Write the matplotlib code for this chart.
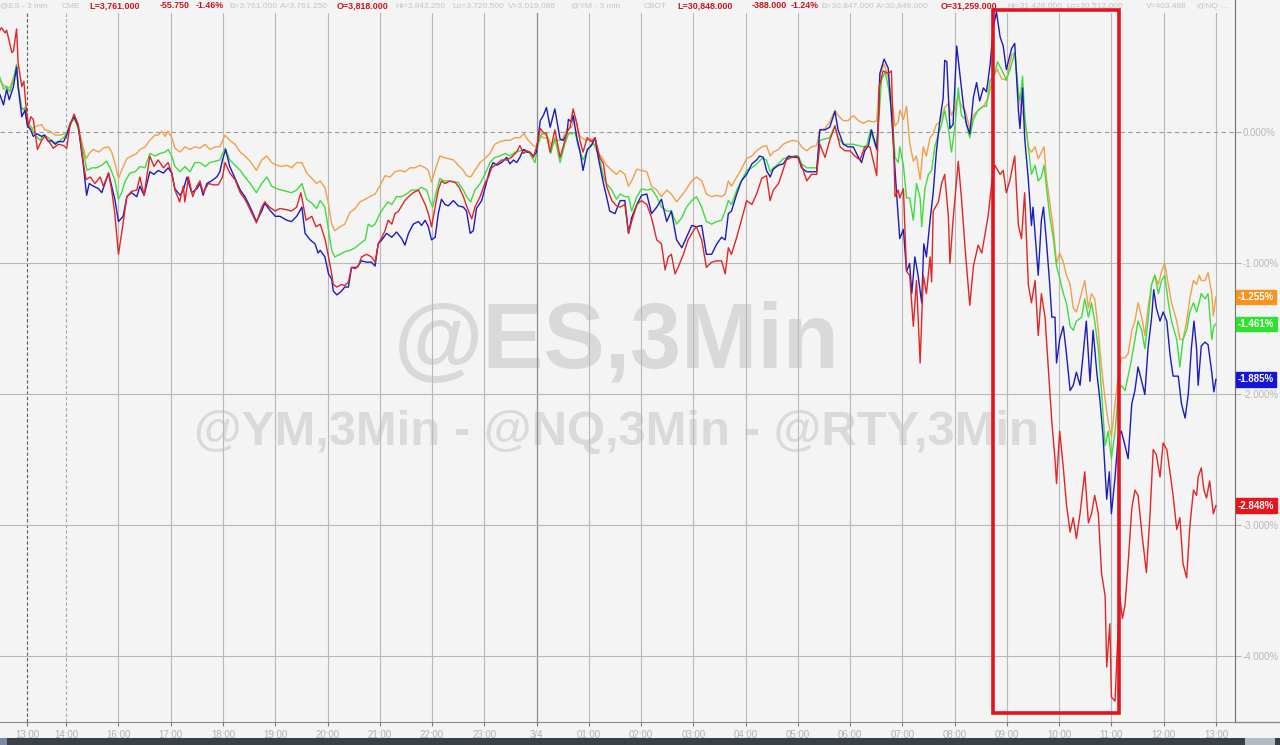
import matplotlib
matplotlib.use("Agg")
import matplotlib.pyplot as plt
from matplotlib.patches import Rectangle
from matplotlib.lines import Line2D

plt.rcParams['font.family'] = ['Liberation Sans', 'DejaVu Sans']

# ---------------------------------------------------------------------------
# data: x = session hours after 13:00 (trading break removed), y = % change
# ---------------------------------------------------------------------------

tick_pos = [0, 0.75, 1.75, 2.75, 3.75, 4.75, 5.75, 6.75, 7.75, 8.75, 9.75, 10.75,
            11.75, 12.75, 13.75, 14.75, 15.75, 16.75, 17.75, 18.75, 19.75, 20.75,
            21.75, 22.75]
tick_lbl = ['13:00', '14:00', '16:00', '17:00', '18:00', '19:00', '20:00', '21:00',
            '22:00', '23:00', '3/4', '01:00', '02:00', '03:00', '04:00', '05:00',
            '06:00', '07:00', '08:00', '09:00', '10:00', '11:00', '12:00', '13:00']

y_ticks = [0, -1, -2, -3, -4]
y_lbl = ['0.000%', '-1.000%', '-2.000%', '-3.000%', '-4.000%']

# @ES (orange)
es_t = [-0.52, -0.45, -0.39, -0.33, -0.26, -0.20, -0.17, -0.10, -0.04, 0.01, 0.09, 0.19, 0.28, 0.34, 0.44, 0.54, 0.63, 0.73, 0.79, 0.86, 0.92, 1.01, 1.13, 1.19, 1.27, 1.37, 1.46, 1.56, 1.62, 1.68, 1.75, 1.81, 1.91, 2.00, 2.10, 2.16, 2.26, 2.35, 2.45, 2.51, 2.58, 2.64, 2.70, 2.77, 2.83, 2.93, 3.02, 3.12, 3.21, 3.31, 3.41, 3.50, 3.60, 3.69, 3.79, 3.88, 3.98, 4.08, 4.17, 4.27, 4.39, 4.49, 4.59, 4.68, 4.78, 4.87, 4.97, 5.06, 5.16, 5.26, 5.35, 5.45, 5.54,
        5.61, 5.70, 5.77, 5.83, 5.89, 5.99, 6.08, 6.18, 6.28, 6.37, 6.47, 6.56, 6.66, 6.75, 6.85, 6.95, 7.04, 7.14, 7.23, 7.33, 7.42, 7.52, 7.62, 7.68, 7.74, 7.84, 7.90, 7.97, 8.06, 8.16, 8.25, 8.35, 8.41, 8.49, 8.57, 8.67, 8.76, 8.86, 8.95, 9.05, 9.15, 9.24, 9.34, 9.43, 9.51, 9.59, 9.69, 9.75, 9.82, 9.88, 9.97, 10.04, 10.13, 10.23, 10.33, 10.42, 10.49, 10.55, 10.61, 10.71, 10.80, 10.90, 11.00, 11.09, 11.19, 11.28,
        11.35, 11.44, 11.51, 11.57, 11.67, 11.76, 11.86, 11.95, 12.05, 12.14, 12.24, 12.33, 12.43, 12.53, 12.62, 12.72, 12.81, 12.91, 13.00, 13.10, 13.20, 13.29, 13.36, 13.42, 13.48, 13.58, 13.67, 13.77, 13.87, 13.96, 14.06, 14.15, 14.22, 14.28, 14.38, 14.47, 14.57, 14.66, 14.76, 14.82, 14.92, 15.01, 15.11, 15.17, 15.27, 15.36, 15.46, 15.52, 15.62, 15.71, 15.81, 15.91, 16.00, 16.10, 16.19, 16.26, 16.32, 16.40, 16.48, 16.56, 16.61, 16.67,
        16.70, 16.77, 16.83, 16.89, 16.96, 17.02, 17.09, 17.15, 17.21, 17.28, 17.34, 17.40, 17.47, 17.56, 17.63, 17.69, 17.76, 17.82, 17.88, 17.95, 18.04, 18.11, 18.20, 18.30, 18.39, 18.49, 18.57, 18.65, 18.74, 18.84, 18.90, 18.97, 19.03, 19.09, 19.16, 19.22, 19.29, 19.35, 19.41, 19.46, 19.51, 19.57, 19.64, 19.70, 19.76, 19.83, 19.89, 19.96, 20.02, 20.08, 20.15, 20.24, 20.31, 20.37, 20.43, 20.50, 20.56, 20.63, 20.69, 20.75, 20.82, 20.88, 20.94, 21.01, 21.07, 21.14, 21.20, 21.26, 21.33, 21.39, 21.45, 21.52, 21.58, 21.65, 21.71, 21.77, 21.84, 21.90, 22.00, 22.06, 22.12, 22.19, 22.25, 22.32, 22.38, 22.43, 22.47, 22.54, 22.60, 22.67, 22.70, 22.75]
es_v = [0.40, 0.36, 0.35, 0.34, 0.42, 0.50, 0.35, 0.19, 0.17, 0.05, 0.03, 0.05, 0.06, 0.02, 0.01, -0.02, -0.02, -0.01, 0.02, 0.08, 0.11, -0.01, -0.20, -0.16, -0.13, -0.15, -0.12, -0.11, -0.15, -0.23, -0.35, -0.29, -0.20, -0.18, -0.16, -0.13, -0.11, -0.06, -0.02, -0.02, 0.01, -0.03, 0.01, -0.04, -0.12, -0.15, -0.11, -0.13, -0.11, -0.12, -0.09, -0.13, -0.11, -0.11, -0.02, -0.06, -0.09, -0.15, -0.18, -0.22, -0.29, -0.21, -0.18, -0.23, -0.25, -0.26, -0.25, -0.27, -0.23, -0.23, -0.31, -0.35, -0.39,
        -0.37, -0.42, -0.55, -0.70, -0.75, -0.72, -0.70, -0.61, -0.58, -0.53, -0.51, -0.49, -0.47, -0.41, -0.33, -0.34, -0.30, -0.29, -0.30, -0.27, -0.27, -0.25, -0.27, -0.29, -0.38, -0.25, -0.18, -0.19, -0.20, -0.21, -0.25, -0.29, -0.33, -0.34, -0.29, -0.23, -0.20, -0.16, -0.09, -0.07, -0.06, -0.06, -0.04, -0.04, -0.01, -0.06, -0.10, -0.11, -0.02, -0.04, -0.04, -0.10, -0.06, -0.06, 0.02, 0.04, 0.12, -0.01, -0.04, -0.06, -0.05, -0.14, -0.19, -0.25, -0.29, -0.32,
        -0.29, -0.32, -0.41, -0.37, -0.28, -0.29, -0.30, -0.41, -0.44, -0.49, -0.44, -0.47, -0.53, -0.48, -0.43, -0.37, -0.34, -0.37, -0.47, -0.49, -0.48, -0.49, -0.47, -0.37, -0.41, -0.34, -0.28, -0.20, -0.18, -0.14, -0.11, -0.10, -0.18, -0.15, -0.13, -0.09, -0.07, -0.06, -0.07, -0.11, -0.14, -0.11, -0.10, 0.02, 0.03, 0.08, 0.17, 0.13, 0.09, 0.09, 0.13, 0.09, 0.07, 0.09, 0.08, 0.09, 0.45, 0.52, 0.42, 0.22, 0.05, 0.08,
        0.17, 0.10, 0.20, -0.08, -0.22, -0.18, -0.36, -0.11, -0.18, -0.04, -0.01, 0.06, 0.08, 0.19, 0.22, 0.13, 0.20, 0.27, 0.20, 0.17, 0.03, 0.13, 0.17, 0.20, 0.26, 0.43, 0.48, 0.41, 0.40, 0.59, 0.61, 0.27, 0.17, 0.10, -0.11, -0.15, -0.11, -0.20, -0.15, -0.11, -0.36, -0.53, -0.74, -1.00, -0.92, -0.99, -1.09, -1.16, -1.34, -1.37, -1.27, -1.13, -1.34, -1.23, -1.27, -1.51, -1.79, -2.04, -2.21, -2.32, -2.07, -1.86, -1.72, -1.72, -1.69, -1.51, -1.44, -1.30, -1.41, -1.55, -1.34, -1.16, -1.09, -1.16, -1.06, -1.00, -1.16, -1.30, -1.44, -1.58, -1.58, -1.44, -1.27, -1.13, -1.16, -1.09, -1.13, -1.13, -1.07, -1.23, -1.40, -1.255]

# @YM (green)
ym_t = [-0.52, -0.45, -0.39, -0.33, -0.26, -0.20, -0.17, -0.10, -0.04, 0.01, 0.07, 0.15, 0.25, 0.31, 0.41, 0.50, 0.60, 0.70, 0.76, 0.82, 0.90, 0.98, 1.08, 1.15, 1.24, 1.33, 1.43, 1.52, 1.59, 1.68, 1.75, 1.81, 1.88, 1.97, 2.07, 2.16, 2.26, 2.35, 2.45, 2.55, 2.64, 2.70, 2.77, 2.83, 2.93, 3.02, 3.12, 3.21, 3.31, 3.41, 3.50, 3.60, 3.69, 3.79, 3.88, 3.98, 4.08, 4.17, 4.27, 4.39, 4.49, 4.59, 4.68, 4.78, 4.87, 4.97, 5.06, 5.16, 5.26, 5.35, 5.45, 5.54,
        5.61, 5.70, 5.77, 5.83, 5.89, 5.99, 6.08, 6.18, 6.28, 6.37, 6.47, 6.53, 6.59, 6.66, 6.75, 6.85, 6.91, 6.98, 7.07, 7.17, 7.26, 7.36, 7.46, 7.55, 7.65, 7.71, 7.76, 7.84, 7.90, 7.97, 8.06, 8.16, 8.25, 8.35, 8.41, 8.49, 8.57, 8.67, 8.76, 8.86, 8.95, 9.05, 9.15, 9.24, 9.34, 9.43, 9.53, 9.62, 9.72, 9.78, 9.85, 9.94, 10.02, 10.10, 10.20, 10.29, 10.36, 10.42, 10.49, 10.55, 10.64, 10.72, 10.80, 10.87, 10.96, 11.03, 11.09, 11.19, 11.28,
        11.35, 11.44, 11.51, 11.57, 11.67, 11.76, 11.86, 11.95, 12.05, 12.14, 12.24, 12.33, 12.43, 12.53, 12.62, 12.72, 12.81, 12.91, 13.00, 13.10, 13.20, 13.29, 13.36, 13.42, 13.48, 13.58, 13.67, 13.77, 13.87, 13.96, 14.06, 14.15, 14.22, 14.28, 14.38, 14.47, 14.57, 14.66, 14.76, 14.82, 14.92, 15.01, 15.11, 15.17, 15.27, 15.36, 15.46, 15.52, 15.62, 15.71, 15.81, 15.91, 16.00, 16.07, 16.14, 16.24, 16.29, 16.35, 16.42, 16.48, 16.56, 16.61, 16.67,
        16.70, 16.77, 16.83, 16.89, 16.96, 17.02, 17.09, 17.12, 17.18, 17.25, 17.31, 17.37, 17.44, 17.50, 17.56, 17.63, 17.69, 17.76, 17.82, 17.88, 17.95, 18.04, 18.11, 18.20, 18.30, 18.36, 18.43, 18.52, 18.57, 18.65, 18.74, 18.81, 18.90, 18.97, 19.00, 19.05, 19.09, 19.16, 19.22, 19.29, 19.35, 19.41, 19.46, 19.51, 19.57, 19.64, 19.70, 19.76, 19.83, 19.89, 19.96, 20.02, 20.08, 20.18, 20.24, 20.31, 20.37, 20.43, 20.50, 20.56, 20.63, 20.69, 20.75, 20.82, 20.88, 20.94, 21.01, 21.07, 21.14, 21.20, 21.26, 21.33, 21.39, 21.45, 21.52, 21.58, 21.65, 21.71, 21.77, 21.84, 21.90, 22.00, 22.06, 22.12, 22.19, 22.25, 22.32, 22.38, 22.43, 22.47, 22.54, 22.60, 22.67, 22.71, 22.75]
ym_v = [0.42, 0.33, 0.35, 0.31, 0.40, 0.52, 0.35, 0.17, 0.19, 0.05, 0.05, -0.02, -0.06, -0.02, -0.04, -0.08, -0.07, -0.04, -0.01, 0.07, 0.11, 0.03, -0.16, -0.29, -0.27, -0.27, -0.25, -0.22, -0.27, -0.36, -0.51, -0.46, -0.37, -0.31, -0.30, -0.26, -0.27, -0.16, -0.18, -0.16, -0.15, -0.13, -0.18, -0.26, -0.30, -0.26, -0.30, -0.23, -0.23, -0.26, -0.23, -0.22, -0.21, -0.12, -0.21, -0.25, -0.29, -0.34, -0.39, -0.46, -0.39, -0.34, -0.41, -0.43, -0.44, -0.45, -0.46, -0.44, -0.39, -0.51, -0.54, -0.58,
        -0.52, -0.57, -0.75, -0.90, -0.95, -0.93, -0.91, -0.90, -0.88, -0.85, -0.82, -0.70, -0.72, -0.70, -0.62, -0.56, -0.53, -0.55, -0.49, -0.49, -0.47, -0.44, -0.44, -0.42, -0.44, -0.52, -0.57, -0.44, -0.35, -0.37, -0.37, -0.38, -0.38, -0.44, -0.49, -0.53, -0.44, -0.39, -0.32, -0.23, -0.19, -0.18, -0.16, -0.18, -0.15, -0.14, -0.13, -0.16, -0.23, -0.09, -0.01, -0.02, -0.16, -0.04, -0.23, -0.09, -0.01, -0.01, 0.00, -0.11, -0.21, -0.14, -0.09, -0.09, -0.21, -0.34, -0.39, -0.44, -0.51,
        -0.47, -0.49, -0.49, -0.60, -0.49, -0.43, -0.44, -0.43, -0.49, -0.57, -0.60, -0.60, -0.70, -0.65, -0.57, -0.52, -0.49, -0.57, -0.68, -0.70, -0.68, -0.67, -0.60, -0.52, -0.55, -0.44, -0.37, -0.29, -0.27, -0.24, -0.20, -0.21, -0.30, -0.27, -0.24, -0.20, -0.19, -0.18, -0.18, -0.24, -0.27, -0.27, -0.27, -0.06, -0.05, -0.04, 0.05, -0.04, -0.09, -0.09, -0.09, -0.10, -0.11, -0.10, 0.02, -0.11, 0.04, 0.40, 0.46, 0.35, 0.12, -0.19, -0.23,
        -0.11, -0.25, -0.50, -0.50, -0.67, -0.39, -0.50, -0.72, -0.43, -0.32, -0.29, -0.11, -0.01, 0.06, 0.17, 0.03, -0.15, 0.06, 0.34, 0.13, 0.10, -0.04, 0.10, 0.17, 0.20, 0.20, 0.40, 0.45, 0.54, 0.48, 0.40, 0.48, 0.61, 0.31, 0.24, 0.43, 0.13, -0.11, -0.32, -0.25, -0.37, -0.34, -0.25, -0.43, -0.64, -0.81, -1.02, -1.11, -1.23, -1.30, -1.48, -1.51, -1.44, -1.41, -1.27, -1.41, -1.30, -1.44, -1.65, -1.97, -2.39, -2.28, -2.49, -2.28, -2.00, -1.93, -1.97, -1.86, -1.72, -1.58, -1.44, -1.51, -1.65, -1.44, -1.16, -1.09, -1.23, -1.13, -1.09, -1.30, -1.44, -1.58, -1.79, -1.58, -1.51, -1.37, -1.30, -1.37, -1.30, -1.23, -1.27, -1.23, -1.58, -1.48, -1.461]

# @NQ (blue)
nq_t = [-0.52, -0.45, -0.39, -0.34, -0.26, -0.20, -0.17, -0.10, -0.04, 0.01, 0.07, 0.12, 0.19, 0.28, 0.34, 0.41, 0.47, 0.54, 0.60, 0.70, 0.76, 0.84, 0.90, 0.98, 1.08, 1.14, 1.19, 1.27, 1.37, 1.43, 1.49, 1.56, 1.62, 1.68, 1.75, 1.84, 1.91, 2.00, 2.10, 2.16, 2.24, 2.35, 2.43, 2.51, 2.61, 2.70, 2.77, 2.83, 2.93, 2.99, 3.06, 3.15, 3.25, 3.31, 3.37, 3.44, 3.53, 3.63, 3.69, 3.74, 3.80, 3.88, 3.98, 4.08, 4.17, 4.27, 4.39, 4.49, 4.55, 4.64, 4.75, 4.84, 4.97, 5.06, 5.16, 5.26, 5.32, 5.42, 5.51, 5.57,
        5.61, 5.70, 5.77, 5.83, 5.86, 5.93, 6.02, 6.08, 6.15, 6.21, 6.31, 6.40, 6.50, 6.59, 6.66, 6.72, 6.79, 6.88, 6.98, 7.07, 7.17, 7.23, 7.30, 7.39, 7.49, 7.55, 7.62, 7.68, 7.74, 7.81, 7.87, 7.93, 8.00, 8.06, 8.16, 8.25, 8.35, 8.41, 8.48, 8.54, 8.60, 8.70, 8.80, 8.86, 8.92, 8.99, 9.08, 9.18, 9.24, 9.31, 9.37, 9.43, 9.50, 9.56, 9.62, 9.69, 9.75, 9.82, 9.88, 9.94, 10.01, 10.10, 10.20, 10.26, 10.33, 10.36, 10.42, 10.45, 10.52, 10.58, 10.64, 10.72, 10.80, 10.87, 10.93, 11.03, 11.09, 11.15, 11.25,
        11.35, 11.44, 11.51, 11.57, 11.67, 11.76, 11.86, 11.95, 12.05, 12.14, 12.24, 12.33, 12.43, 12.53, 12.62, 12.72, 12.81, 12.91, 13.00, 13.10, 13.20, 13.29, 13.36, 13.42, 13.48, 13.58, 13.67, 13.77, 13.87, 13.96, 14.02, 14.09, 14.15, 14.22, 14.28, 14.38, 14.47, 14.57, 14.66, 14.76, 14.82, 14.92, 15.01, 15.11, 15.17, 15.27, 15.36, 15.46, 15.52, 15.62, 15.71, 15.81, 15.91, 15.97, 16.03, 16.10, 16.16, 16.26, 16.29, 16.32, 16.40, 16.48, 16.56, 16.64,
        16.70, 16.77, 16.83, 16.89, 16.93, 16.99, 17.05, 17.12, 17.16, 17.21, 17.28, 17.34, 17.40, 17.47, 17.53, 17.56, 17.60, 17.66, 17.72, 17.79, 17.85, 17.92, 17.98, 18.04, 18.11, 18.17, 18.23, 18.30, 18.36, 18.43, 18.49, 18.55, 18.62, 18.68, 18.74, 18.84, 18.90, 18.97, 19.00, 19.05, 19.09, 19.16, 19.22, 19.25, 19.32, 19.35, 19.41, 19.45, 19.51, 19.57, 19.61, 19.67, 19.70, 19.76, 19.83, 19.89, 19.96, 20.02, 20.08, 20.15, 20.21, 20.27, 20.34, 20.40, 20.47, 20.53, 20.59, 20.66, 20.71, 20.75, 20.82, 20.88, 20.94, 21.01, 21.07, 21.14, 21.20, 21.26, 21.33, 21.39, 21.45, 21.52, 21.56, 21.61, 21.68, 21.74, 21.81, 21.87, 21.93, 22.03, 22.09, 22.16, 22.22, 22.28, 22.33, 22.38, 22.41, 22.47, 22.54, 22.60, 22.67, 22.71, 22.75]
nq_v = [0.29, 0.21, 0.33, 0.25, 0.35, 0.50, 0.35, 0.12, 0.17, 0.05, 0.02, -0.03, -0.01, -0.03, -0.02, -0.07, -0.06, -0.09, -0.07, -0.07, -0.02, 0.08, 0.12, 0.05, -0.26, -0.48, -0.39, -0.41, -0.43, -0.46, -0.39, -0.31, -0.41, -0.51, -0.68, -0.64, -0.49, -0.46, -0.49, -0.41, -0.48, -0.30, -0.32, -0.29, -0.31, -0.27, -0.31, -0.43, -0.48, -0.44, -0.34, -0.46, -0.43, -0.39, -0.48, -0.39, -0.37, -0.34, -0.30, -0.21, -0.13, -0.26, -0.35, -0.44, -0.49, -0.57, -0.68, -0.60, -0.54, -0.59, -0.64, -0.64, -0.67, -0.68, -0.64, -0.57, -0.77, -0.82, -0.85, -0.92,
        -0.90, -0.95, -1.08, -1.12, -1.21, -1.24, -1.21, -1.18, -1.18, -1.03, -1.03, -0.98, -0.99, -0.99, -1.02, -0.85, -0.82, -0.77, -0.80, -0.76, -0.81, -0.86, -0.77, -0.70, -0.68, -0.71, -0.67, -0.72, -0.82, -0.80, -0.62, -0.51, -0.55, -0.56, -0.52, -0.56, -0.57, -0.60, -0.77, -0.75, -0.58, -0.52, -0.37, -0.28, -0.23, -0.25, -0.23, -0.19, -0.24, -0.21, -0.23, -0.19, -0.13, -0.15, -0.15, -0.18, -0.15, 0.09, 0.13, 0.19, 0.04, 0.18, -0.05, -0.06, -0.01, 0.10, 0.08, 0.13, -0.04, -0.14, -0.29, -0.13, -0.10, -0.04, -0.19, -0.39, -0.49, -0.60, -0.62,
        -0.52, -0.52, -0.77, -0.65, -0.55, -0.48, -0.47, -0.62, -0.57, -0.51, -0.68, -0.60, -0.82, -0.88, -0.80, -0.71, -0.72, -0.71, -0.93, -0.93, -0.85, -0.80, -0.82, -0.62, -0.60, -0.47, -0.37, -0.32, -0.24, -0.21, -0.18, -0.19, -0.29, -0.34, -0.28, -0.25, -0.24, -0.18, -0.19, -0.19, -0.27, -0.30, -0.30, -0.30, 0.02, 0.02, 0.04, 0.16, 0.02, -0.09, -0.11, -0.11, -0.19, -0.23, -0.14, -0.10, 0.02, -0.13, 0.09, 0.45, 0.56, 0.49, 0.02, -0.47,
        -0.81, -0.74, -1.06, -1.00, -1.23, -0.95, -1.09, -1.30, -0.85, -0.95, -0.67, -0.46, -0.15, 0.10, 0.26, 0.55, 0.54, 0.03, 0.06, 0.66, 0.45, 0.20, 0.06, -0.01, 0.27, 0.38, 0.24, 0.34, 0.31, 0.52, 0.80, 0.92, 0.73, 0.66, 0.48, 0.64, 0.68, 0.17, 0.03, 0.34, -0.04, -0.36, -0.71, -0.57, -0.93, -1.09, -0.67, -0.57, -0.85, -1.16, -1.41, -1.41, -1.76, -1.58, -1.48, -1.69, -1.97, -1.93, -1.83, -1.93, -1.69, -1.44, -1.90, -1.51, -1.83, -2.04, -2.32, -2.80, -2.59, -2.91, -2.63, -2.32, -2.28, -2.39, -2.49, -2.07, -1.97, -1.79, -1.90, -2.00, -1.65, -1.41, -1.20, -1.34, -1.44, -1.37, -1.44, -1.69, -1.86, -1.86, -2.07, -2.18, -2.00, -1.65, -1.44, -1.65, -1.93, -1.63, -1.60, -1.62, -1.83, -1.98, -1.885]

# @RTY (red)
rty_t = [-0.52, -0.49, -0.42, -0.39, -0.29, -0.26, -0.20, -0.17, -0.10, -0.06, -0.02, 0.03, 0.07, 0.12, 0.20, 0.28, 0.34, 0.44, 0.50, 0.60, 0.70, 0.76, 0.82, 0.90, 0.98, 1.07, 1.13, 1.21, 1.30, 1.40, 1.46, 1.56, 1.62, 1.68, 1.75, 1.81, 1.91, 2.00, 2.10, 2.16, 2.24, 2.35, 2.43, 2.51, 2.61, 2.70, 2.77, 2.83, 2.92, 2.99, 3.02, 3.09, 3.17, 3.25, 3.31, 3.37, 3.47, 3.57, 3.66, 3.74, 3.79, 3.88, 3.98, 4.08, 4.17, 4.27, 4.39, 4.49, 4.55, 4.64, 4.75, 4.84, 4.97, 5.06, 5.16, 5.24, 5.34, 5.45, 5.53,
         5.61, 5.70, 5.77, 5.83, 5.86, 5.93, 6.02, 6.08, 6.15, 6.21, 6.28, 6.34, 6.40, 6.50, 6.59, 6.66, 6.72, 6.79, 6.85, 6.91, 6.98, 7.04, 7.11, 7.17, 7.23, 7.30, 7.39, 7.49, 7.55, 7.62, 7.68, 7.74, 7.81, 7.87, 7.93, 8.00, 8.09, 8.19, 8.27, 8.35, 8.41, 8.51, 8.57, 8.67, 8.76, 8.83, 8.89, 8.99, 9.08, 9.18, 9.27, 9.37, 9.43, 9.50, 9.56, 9.62, 9.69, 9.75, 9.82, 9.88, 9.94, 10.01, 10.10, 10.20, 10.26, 10.33, 10.39, 10.45, 10.52, 10.58, 10.64, 10.72, 10.80, 10.87, 10.96, 11.03, 11.09, 11.19, 11.28,
         11.35, 11.44, 11.51, 11.57, 11.67, 11.76, 11.86, 11.95, 12.05, 12.14, 12.21, 12.27, 12.33, 12.40, 12.46, 12.56, 12.65, 12.75, 12.81, 12.91, 13.00, 13.10, 13.20, 13.29, 13.36, 13.42, 13.48, 13.58, 13.67, 13.77, 13.87, 13.96, 14.06, 14.15, 14.22, 14.28, 14.38, 14.44, 14.53, 14.63, 14.73, 14.82, 14.92, 15.01, 15.11, 15.17, 15.27, 15.36, 15.46, 15.56, 15.65, 15.75, 15.84, 15.94, 16.03, 16.13, 16.19, 16.26, 16.31, 16.38, 16.48, 16.54, 16.61, 16.67,
         16.70, 16.77, 16.83, 16.89, 16.96, 17.02, 17.09, 17.15, 17.21, 17.28, 17.31, 17.34, 17.44, 17.50, 17.56, 17.63, 17.66, 17.72, 17.82, 17.88, 17.95, 18.04, 18.11, 18.20, 18.27, 18.33, 18.39, 18.46, 18.52, 18.62, 18.68, 18.74, 18.81, 18.90, 18.97, 19.03, 19.09, 19.16, 19.22, 19.29, 19.35, 19.41, 19.48, 19.51, 19.61, 19.67, 19.70, 19.76, 19.83, 19.89, 19.96, 20.02, 20.08, 20.15, 20.24, 20.31, 20.37, 20.43, 20.50, 20.56, 20.63, 20.66, 20.72, 20.75, 20.82, 20.86, 20.91, 20.96, 21.01, 21.07, 21.14, 21.20, 21.26, 21.33, 21.39, 21.42, 21.49, 21.55, 21.61, 21.68, 21.74, 21.81, 21.87, 21.93, 22.00, 22.06, 22.12, 22.19, 22.25, 22.32, 22.38, 22.41, 22.47, 22.52, 22.57, 22.63, 22.70, 22.75]
rty_v = [0.78, 0.80, 0.76, 0.78, 0.61, 0.62, 0.79, 0.53, 0.35, 0.39, 0.20, 0.05, 0.12, 0.10, -0.13, -0.06, -0.03, -0.08, -0.12, -0.09, -0.10, -0.12, 0.05, 0.14, 0.06, -0.21, -0.36, -0.34, -0.39, -0.34, -0.41, -0.31, -0.44, -0.62, -0.93, -0.77, -0.49, -0.45, -0.44, -0.34, -0.48, -0.18, -0.26, -0.21, -0.27, -0.23, -0.31, -0.44, -0.53, -0.41, -0.53, -0.34, -0.49, -0.41, -0.37, -0.46, -0.39, -0.40, -0.40, -0.34, -0.23, -0.31, -0.36, -0.46, -0.51, -0.59, -0.69, -0.57, -0.53, -0.57, -0.60, -0.58, -0.59, -0.60, -0.57, -0.46, -0.67, -0.64, -0.72,
         -0.70, -0.81, -0.95, -1.08, -1.16, -1.18, -1.16, -1.17, -1.14, -1.03, -1.04, -1.02, -0.95, -0.93, -0.95, -0.99, -0.85, -0.80, -0.75, -0.67, -0.70, -0.62, -0.60, -0.56, -0.52, -0.49, -0.46, -0.44, -0.49, -0.55, -0.62, -0.72, -0.57, -0.44, -0.37, -0.39, -0.37, -0.38, -0.42, -0.49, -0.56, -0.66, -0.57, -0.49, -0.39, -0.34, -0.27, -0.24, -0.21, -0.21, -0.19, -0.15, -0.10, -0.16, -0.14, -0.15, -0.19, -0.11, 0.03, 0.00, -0.01, -0.15, 0.02, -0.19, -0.11, 0.00, 0.04, 0.18, 0.07, -0.06, -0.15, -0.04, -0.07, -0.04, -0.19, -0.24, -0.41, -0.52, -0.56,
         -0.57, -0.55, -0.77, -0.68, -0.55, -0.52, -0.55, -0.65, -0.82, -0.85, -1.05, -0.95, -0.93, -1.08, -1.03, -0.93, -0.82, -0.75, -0.72, -0.82, -1.03, -0.99, -0.98, -0.98, -1.08, -0.88, -0.93, -0.80, -0.67, -0.52, -0.55, -0.47, -0.35, -0.33, -0.52, -0.44, -0.39, -0.32, -0.21, -0.19, -0.18, -0.25, -0.37, -0.32, -0.32, -0.09, -0.19, -0.06, 0.05, -0.11, -0.14, -0.14, -0.18, -0.21, -0.11, -0.11, -0.21, -0.33, 0.35, 0.47, 0.45, 0.47, -0.49, -0.44,
         -0.50, -0.43, -1.06, -1.09, -1.48, -1.13, -1.76, -1.09, -1.23, -0.95, -1.14, -0.60, -0.53, -0.39, -0.32, -0.64, -1.00, -0.67, -0.22, -0.50, -0.88, -1.32, -1.02, -0.86, -0.92, -0.78, -0.64, -0.39, -0.25, -0.32, -0.29, -0.46, -0.36, -0.18, -0.71, -0.81, -0.46, -1.16, -1.30, -1.13, -1.55, -1.23, -1.41, -1.60, -2.21, -2.49, -2.68, -2.28, -2.56, -2.84, -3.05, -2.94, -3.10, -2.91, -2.59, -2.98, -2.91, -2.77, -2.91, -3.36, -3.54, -4.08, -3.75, -4.31, -4.34, -3.96, -3.54, -3.71, -3.61, -3.29, -2.87, -2.73, -2.77, -3.05, -3.26, -3.36, -2.91, -2.42, -2.46, -2.63, -2.37, -2.42, -2.59, -2.77, -3.03, -2.94, -3.29, -3.40, -3.01, -2.73, -2.77, -2.63, -2.56, -2.73, -2.79, -2.66, -2.91, -2.848]

# highlighted window (09:00 - 11:00), in chart units
box_t = [18.49, 20.90]
box_v = [-4.43, 0.935]

BG = '#f4f4f4'
C_ES, C_YM, C_NQ, C_RTY = '#f0a04b', '#3fdc3f', '#1c1cb8', '#e02626'
TAG = {'es': '#f7931e', 'ym': '#2ee22e', 'nq': '#1515d6', 'rty': '#e8141c'}
GREY_TXT = '#c4c4c4'
RED_TXT = '#c8161e'

# ---------------------------------------------------------------------------
# figure
# ---------------------------------------------------------------------------

fig = plt.figure(figsize=(12.8, 7.45), dpi=100, facecolor=BG)
ax = fig.add_axes([0, 23 / 745, 1235 / 1280, 722 / 745])
ax.set_facecolor(BG)
ax.set_xlim(-0.517, 23.115)
ax.set_ylim(-4.50, 1.011)

for s in ['top', 'left']:
    ax.spines[s].set_visible(False)
ax.spines['right'].set_color('#707070')
ax.spines['bottom'].set_color('#8a8a8a')

# grid (stops below the header strip)
top_frac = 1 - 13 / 722
for i, p in enumerate(tick_pos):
    if i == 0:
        ax.axvline(p, ymax=top_frac, color='#5a5a5a', lw=0.8, ls=(0, (3, 2)), zorder=1)
    elif i == 1:
        ax.axvline(p, ymax=top_frac, color='#a8a8a8', lw=0.8, ls=(0, (3, 2)), zorder=1)
    elif tick_lbl[i] == '3/4':
        ax.axvline(p, ymax=top_frac, color='#8c8c8c', lw=0.9, zorder=1)
    else:
        ax.axvline(p, ymax=top_frac, color='#b8b8b8', lw=0.8, zorder=1)
for v in y_ticks[1:]:
    ax.axhline(v, color='#b8b8b8', lw=0.8, zorder=1)
ax.axhline(0, color='#9a9a9a', lw=0.8, ls=(0, (4, 3)), zorder=1)

# watermark
ax.text(617 / 1280, 1 - 368 / 745, '@ES,3Min', transform=fig.transFigure,
        ha='center', va='baseline', fontsize=66, fontweight='bold',
        color='#d9d9d9', zorder=0.5)
ax.text(617 / 1280, 1 - 445 / 745, '@YM,3Min - @NQ,3Min - @RTY,3Min',
        transform=fig.transFigure, ha='center', va='baseline', fontsize=35.3,
        fontweight='bold', color='#dadada', zorder=0.5)

# series
ax.plot(es_t, es_v, color=C_ES, lw=1.0, zorder=3)
ax.plot(ym_t, ym_v, color=C_YM, lw=1.0, zorder=3)
ax.plot(nq_t, nq_v, color=C_NQ, lw=1.0, zorder=3)
ax.plot(rty_t, rty_v, color=C_RTY, lw=1.0, zorder=3)

# red highlight box
ax.add_patch(Rectangle((box_t[0], box_v[0]), box_t[1] - box_t[0], box_v[1] - box_v[0],
                       fill=False, ec='#e3131f', lw=2.6, zorder=5))

# axes ticks
ax.set_xticks(tick_pos)
ax.set_xticklabels(tick_lbl)
ax.tick_params(axis='x', labelcolor='#b0b0b0', color='#7a7a7a', length=3,
               width=0.8, pad=2.5, labelsize=7)
ax.yaxis.tick_right()
ax.set_yticks(y_ticks)
ax.set_yticklabels(y_lbl)
ax.tick_params(axis='y', labelcolor='#b8b8b8', color='#b0b0b0', length=4,
               width=0.8, pad=1.5, labelsize=7)

# last-value tags
for vals, key in [(es_v, 'es'), (ym_v, 'ym'), (nq_v, 'nq'), (rty_v, 'rty')]:
    last = vals[-1]
    ax.text(1.0025, last, f'{last:.3f}%', transform=ax.get_yaxis_transform(),
            ha='left', va='center', fontsize=7, fontweight='bold', color='white',
            bbox=dict(boxstyle='square,pad=0.22', fc=TAG[key], ec=TAG[key]),
            clip_on=False, zorder=6)

# header line
hdr = [
    ('@ES - 3 min', 0, GREY_TXT), ('CME', 62, GREY_TXT),
    ('L=3,761.000', 89, RED_TXT), ('-55.750', 160, RED_TXT), ('-1.46%', 196, RED_TXT),
    ('B=3,761.000', 229, GREY_TXT), ('A=3,761.250', 280, GREY_TXT),
    ('O=3,818.000', 337, RED_TXT), ('Hi=3,842.250', 395, GREY_TXT),
    ('Lo=3,720.500', 452, GREY_TXT), ('V=3,019,086', 508, GREY_TXT),
    ('@YM - 3 min', 571, GREY_TXT), ('CBOT', 644, GREY_TXT),
    ('L=30,848.000', 677, RED_TXT), ('-388.000', 752, RED_TXT), ('-1.24%', 791, RED_TXT),
    ('B=30,847.000', 821, GREY_TXT), ('A=30,849.000', 876, GREY_TXT),
    ('O=31,259.000', 941, RED_TXT), ('Hi=31,426.000', 1007, GREY_TXT),
    ('Lo=30,512.000', 1066, GREY_TXT), ('V=403,488', 1146, GREY_TXT),
    ('@NQ -...', 1197, GREY_TXT),
]
for txt, px, col in hdr:
    is_red = col == RED_TXT
    fig.text(px / 1280, 1 - 6 / 745, txt, ha='left', va='center',
             fontsize=6.4 if is_red else 6.0, color=col,
             fontweight='bold' if is_red else 'normal', zorder=10)

# bottom axis line continues under the price scale, then the scroll bar
fig.add_artist(Line2D([1235 / 1280, 1], [23 / 745, 23 / 745], color='#8a8a8a', lw=1))
fig.patches.append(Rectangle((0, 0), 1, 7 / 745, transform=fig.transFigure,
                             fc='#3a4048', ec='none'))
fig.patches.append(Rectangle((0, 0), 7 / 1280, 7 / 745, transform=fig.transFigure,
                             fc='#7d8aa0', ec='none'))
fig.patches.append(Rectangle((1245 / 1280, 0), 30 / 1280, 7 / 745, transform=fig.transFigure,
                             fc='#b3bbc5', ec='none'))

fig.savefig('out.png', dpi=100, facecolor=BG)
